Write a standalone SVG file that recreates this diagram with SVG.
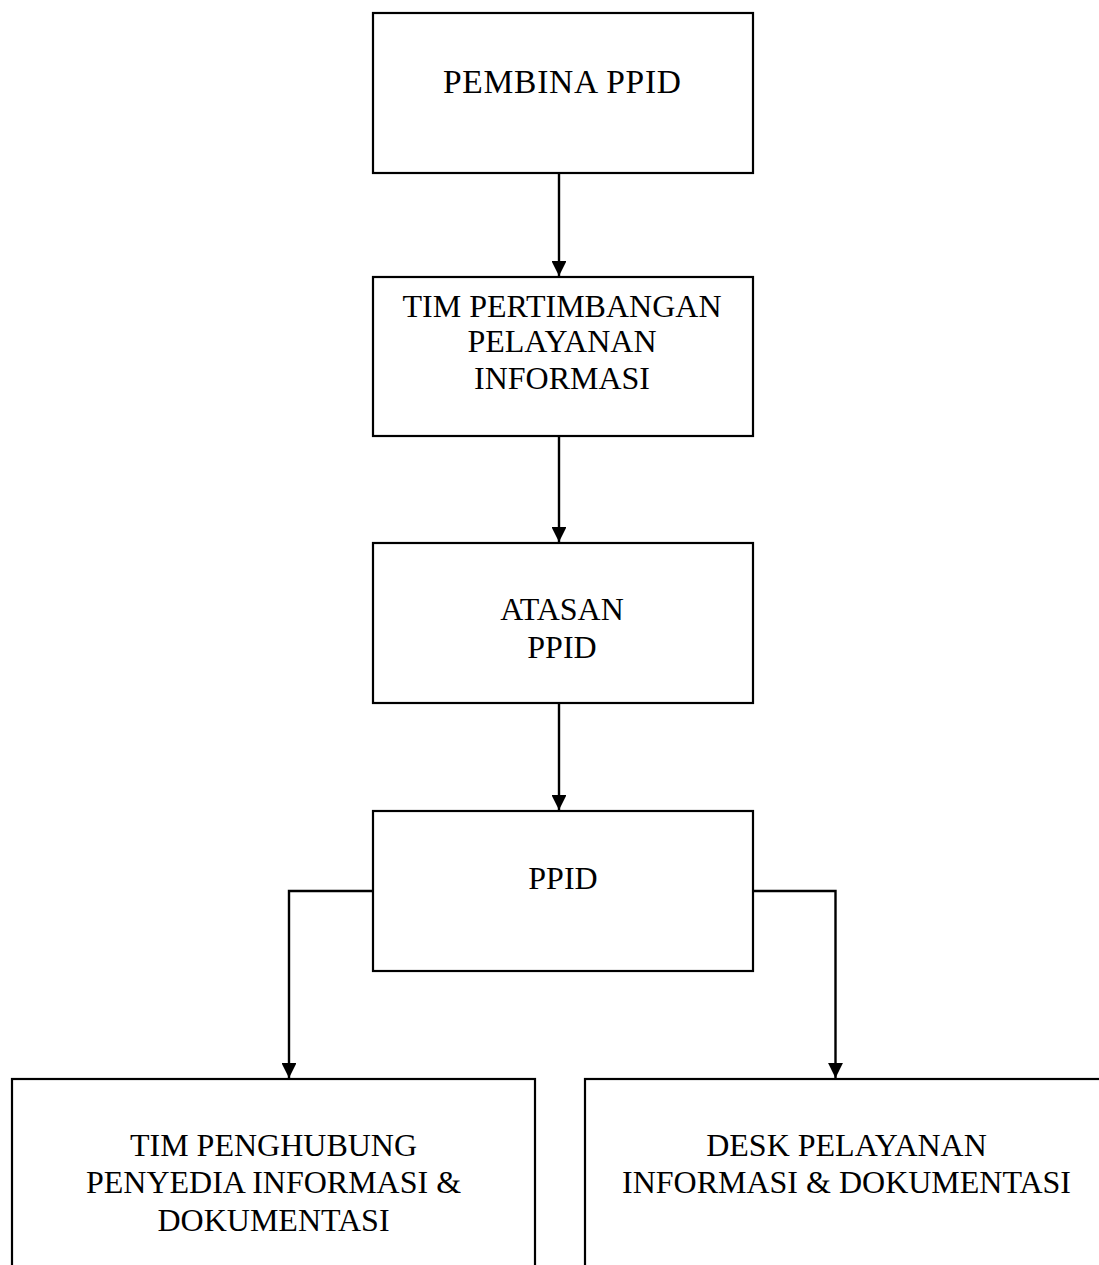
<svg xmlns="http://www.w3.org/2000/svg" width="1099" height="1265" viewBox="0 0 1099 1265">
<style>
.box{fill:#fff;stroke:#000;stroke-width:2.2}
.lbl{font-family:"Liberation Serif","Times New Roman",serif;font-size:32px;fill:#000;text-anchor:middle}
.con{fill:none;stroke:#000;stroke-width:2.4}
</style>
<defs>
<marker id="ah" viewBox="0 0 10 10" refX="10" refY="5" markerWidth="6.2" markerHeight="6.2" markerUnits="strokeWidth" orient="auto">
<path d="M0,0 L10,5 L0,10 Z" fill="#000"/>
</marker>
</defs>
<rect width="1099" height="1265" fill="#fff"/>
<g id="pembina">
<rect class="box" x="373" y="13" width="380" height="160"/>
<text class="lbl" x="562" y="93" style="font-size:33.5px" textLength="238" lengthAdjust="spacing">PEMBINA PPID</text>
</g>
<g id="tim-pertimbangan">
<rect class="box" x="373" y="277" width="380" height="159"/>
<text class="lbl" x="562" y="317">TIM PERTIMBANGAN</text>
<text class="lbl" x="562" y="352">PELAYANAN</text>
<text class="lbl" x="562" y="389">INFORMASI</text>
</g>
<g id="atasan">
<rect class="box" x="373" y="543" width="380" height="160"/>
<text class="lbl" x="562" y="620">ATASAN</text>
<text class="lbl" x="562" y="658">PPID</text>
</g>
<g id="ppid">
<rect class="box" x="373" y="811" width="380" height="160"/>
<text class="lbl" x="563" y="889">PPID</text>
</g>
<g id="tim-penghubung">
<rect class="box" x="12" y="1079" width="523" height="200"/>
<text class="lbl" x="273.5" y="1156">TIM PENGHUBUNG</text>
<text class="lbl" x="273.5" y="1193">PENYEDIA INFORMASI &amp;</text>
<text class="lbl" x="273.5" y="1231">DOKUMENTASI</text>
</g>
<g id="desk">
<rect class="box" x="585" y="1079" width="523" height="200"/>
<text class="lbl" x="846.5" y="1156">DESK PELAYANAN</text>
<text class="lbl" x="846.5" y="1193">INFORMASI &amp; DOKUMENTASI</text>
</g>
<g id="connectors">
<path class="con" d="M559,174 V276" marker-end="url(#ah)"/>
<path class="con" d="M559,437 V542" marker-end="url(#ah)"/>
<path class="con" d="M559,704 V810" marker-end="url(#ah)"/>
<path class="con" d="M373,891 H289 V1078" marker-end="url(#ah)"/>
<path class="con" d="M753,891 H835.5 V1078" marker-end="url(#ah)"/>
</g>
</svg>
